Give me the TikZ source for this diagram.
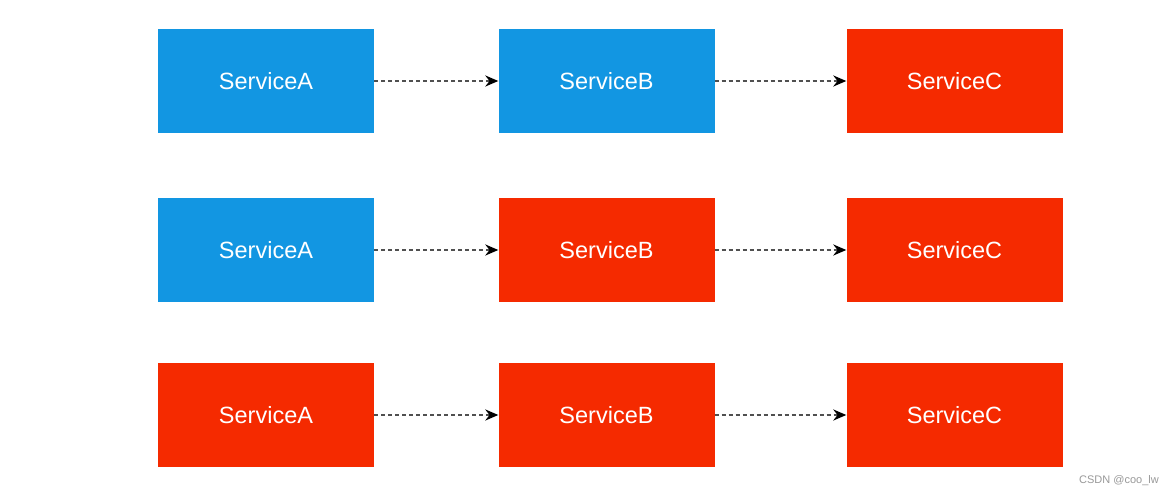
\documentclass[tikz,border=0pt]{standalone}
\usepackage{fontspec}
\setmainfont{Liberation Sans}
\usetikzlibrary{arrows.meta}
\definecolor{svcblue}{HTML}{1296E2}
\definecolor{svcred}{HTML}{F52A00}
\definecolor{callgray}{HTML}{505050}
\tikzset{
  svc/.style={draw=none, minimum width=216pt, minimum height=104pt, inner sep=0pt,
    text=white, font=\fontsize{23.5}{27}\selectfont},
  call/.style={callgray, line width=2pt, dash pattern=on 4pt off 3pt,
    -{Stealth[length=13pt,width=11pt,color=black]}}
}
\begin{document}
\begin{tikzpicture}[x=1pt,y=-1pt]
\useasboundingbox[fill=white] (0,0) rectangle (1174,497);
\foreach \r/\y/\ca/\cb/\cc in {1/81/svcblue/svcblue/svcred, 2/250/svcblue/svcred/svcred, 3/415/svcred/svcred/svcred} {
  \node[svc, fill=\ca] (a\r) at (266,\y) {ServiceA};
  \node[svc, fill=\cb] (b\r) at (606.5,\y) {ServiceB};
  \node[svc, fill=\cc] (c\r) at (954.5,\y) {ServiceC};
  \draw[call] (a\r) -- (b\r);
  \draw[call] (b\r) -- (c\r);
}
\node[text=gray!80, font=\fontsize{11}{13}\selectfont] (mark) at (1119,481) {CSDN @coo\_lw};
\end{tikzpicture}
\end{document}
